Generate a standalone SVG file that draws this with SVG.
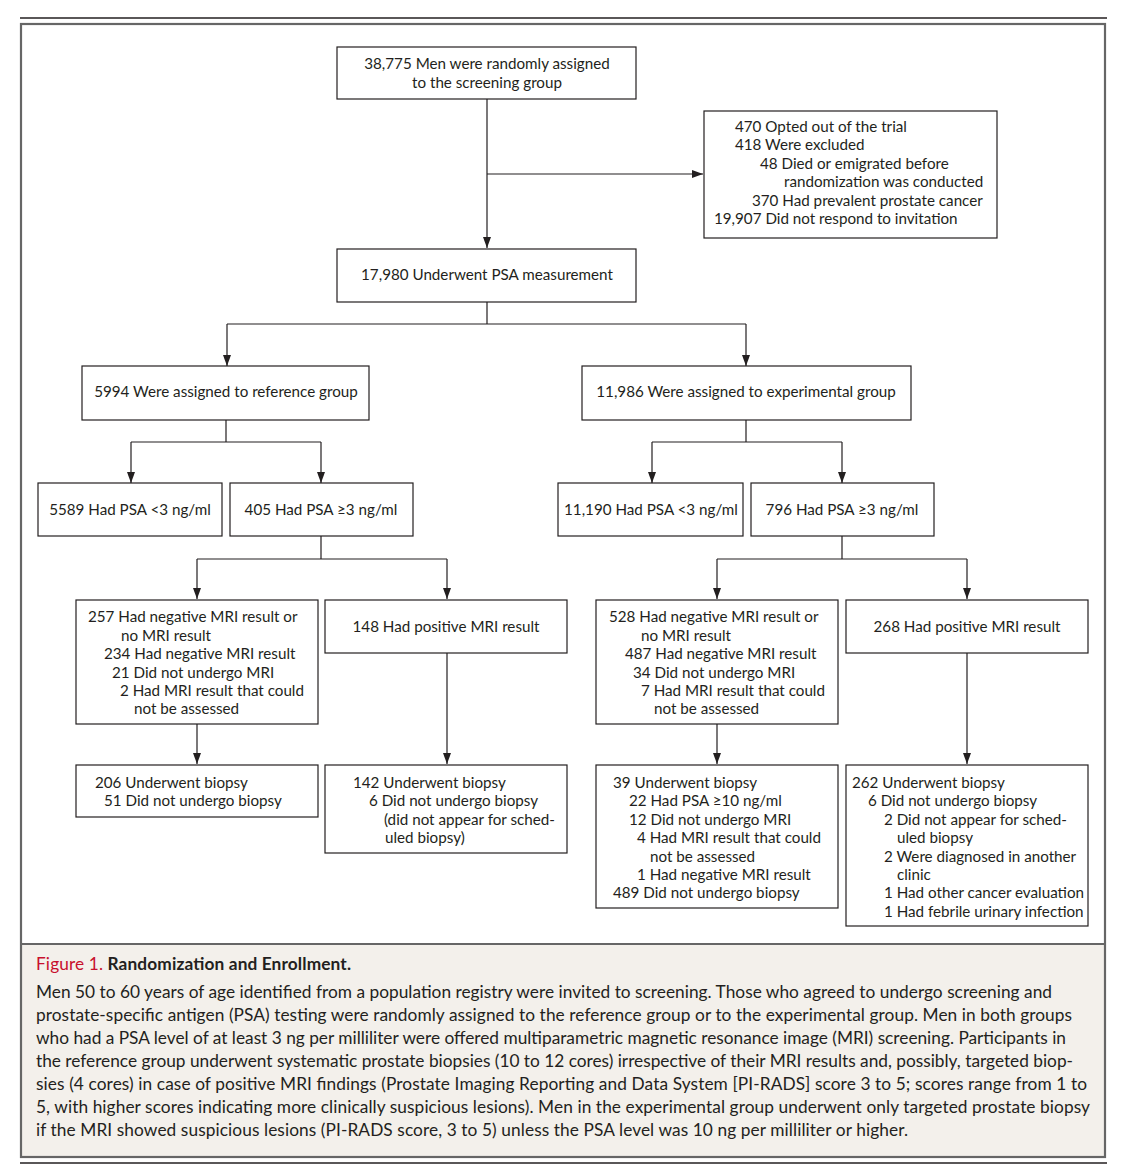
<svg xmlns="http://www.w3.org/2000/svg" width="1131" height="1171" viewBox="0 0 1131 1171">
<style>
.box{fill:#fff;stroke:#231f20;stroke-width:1.2}
.t{font-family:Lato,"Open Sans","Liberation Sans",sans-serif;font-size:15.2px;fill:#231f20}
.c{text-anchor:middle}
.ln{fill:none;stroke:#231f20;stroke-width:1.2}
.cap{font-family:Lato,"Open Sans","Liberation Sans",sans-serif;font-size:17.3px;fill:#231f20}
</style>
<defs>
<marker id="ah" markerUnits="userSpaceOnUse" markerWidth="8" markerHeight="11" refX="4" refY="11" orient="0" viewBox="0 0 8 11">
<path d="M0,0 L8,0 L4,11 z" fill="#231f20"/>
</marker>
<marker id="ar" markerUnits="userSpaceOnUse" markerWidth="11" markerHeight="8" refX="11" refY="4" orient="0" viewBox="0 0 11 8">
<path d="M0,0 L11,4 L0,8 z" fill="#231f20"/>
</marker>
</defs>
<rect width="1131" height="1171" fill="#fff"/>
<line x1="20" y1="18" x2="1107" y2="18" stroke="#231f20" stroke-width="1.5"/>
<rect x="21" y="944" width="1084" height="213" fill="#f3f0eb"/>
<rect x="21" y="24" width="1084" height="1133" fill="none" stroke="#666" stroke-width="2.2"/>
<line x1="21" y1="944" x2="1105" y2="944" stroke="#666" stroke-width="2"/>
<line x1="20" y1="1163" x2="1107" y2="1163" stroke="#231f20" stroke-width="1.5"/>

<g id="connectors">
<path class="ln" d="M487,99 V248" marker-end="url(#ah)"/>
<path class="ln" d="M487,174 H703" marker-end="url(#ar)"/>
<path class="ln" d="M487,302 V324 M227,324 H746"/>
<path class="ln" d="M227,324 V366" marker-end="url(#ah)"/>
<path class="ln" d="M746,324 V366" marker-end="url(#ah)"/>
<path class="ln" d="M226,420 V442 M131,442 H321"/>
<path class="ln" d="M131,442 V483" marker-end="url(#ah)"/>
<path class="ln" d="M321,442 V483" marker-end="url(#ah)"/>
<path class="ln" d="M746,420 V442 M652,442 H842"/>
<path class="ln" d="M652,442 V483" marker-end="url(#ah)"/>
<path class="ln" d="M842,442 V483" marker-end="url(#ah)"/>
<path class="ln" d="M321,536 V559 M197,559 H447"/>
<path class="ln" d="M197,559 V599" marker-end="url(#ah)"/>
<path class="ln" d="M447,559 V599" marker-end="url(#ah)"/>
<path class="ln" d="M842,536 V559 M717,559 H967"/>
<path class="ln" d="M717,559 V599" marker-end="url(#ah)"/>
<path class="ln" d="M967,559 V599" marker-end="url(#ah)"/>
<path class="ln" d="M197,724 V764" marker-end="url(#ah)"/>
<path class="ln" d="M447,653 V764" marker-end="url(#ah)"/>
<path class="ln" d="M717,724 V764" marker-end="url(#ah)"/>
<path class="ln" d="M967,653 V764" marker-end="url(#ah)"/>
</g>

<g id="n-randomized">
<rect class="box" x="337" y="47" width="299" height="52"/>
<text class="t c" x="487" y="69">38,775 Men were randomly assigned</text>
<text class="t c" x="487" y="88">to the screening group</text>
</g>
<g id="n-excluded">
<rect class="box" x="704" y="111" width="293" height="127"/>
<text class="t" x="735" y="132">470 Opted out of the trial</text>
<text class="t" x="735" y="150">418 Were excluded</text>
<text class="t" x="760" y="169">48 Died or emigrated before</text>
<text class="t" x="784" y="187">randomization was conducted</text>
<text class="t" x="752" y="206">370 Had prevalent prostate cancer</text>
<text class="t" x="714" y="224">19,907 Did not respond to invitation</text>
</g>
<g id="n-psa">
<rect class="box" x="337" y="249" width="299" height="53"/>
<text class="t c" x="487" y="280">17,980 Underwent PSA measurement</text>
</g>
<g id="n-ref">
<rect class="box" x="82" y="366" width="287" height="54"/>
<text class="t c" x="226" y="397">5994 Were assigned to reference group</text>
</g>
<g id="n-exp">
<rect class="box" x="582" y="366" width="329" height="54"/>
<text class="t c" x="746" y="397">11,986 Were assigned to experimental group</text>
</g>
<g id="n-ref-low">
<rect class="box" x="38" y="483" width="184" height="53"/>
<text class="t c" x="130" y="515">5589 Had PSA &lt;3 ng/ml</text>
</g>
<g id="n-ref-high">
<rect class="box" x="230" y="483" width="183" height="53"/>
<text class="t c" x="321" y="515">405 Had PSA ≥3 ng/ml</text>
</g>
<g id="n-exp-low">
<rect class="box" x="558" y="483" width="185" height="53"/>
<text class="t c" x="651" y="515">11,190 Had PSA &lt;3 ng/ml</text>
</g>
<g id="n-exp-high">
<rect class="box" x="751" y="483" width="183" height="53"/>
<text class="t c" x="842" y="515">796 Had PSA ≥3 ng/ml</text>
</g>
<g id="n-ref-neg">
<rect class="box" x="76" y="600" width="242" height="124"/>
<text class="t" x="88" y="622">257 Had negative MRI result or</text>
<text class="t" x="121" y="641">no MRI result</text>
<text class="t" x="104" y="659">234 Had negative MRI result</text>
<text class="t" x="112" y="678">21 Did not undergo MRI</text>
<text class="t" x="120" y="696">2 Had MRI result that could</text>
<text class="t" x="134" y="714">not be assessed</text>
</g>
<g id="n-ref-pos">
<rect class="box" x="325" y="600" width="242" height="53"/>
<text class="t c" x="446" y="632">148 Had positive MRI result</text>
</g>
<g id="n-exp-neg">
<rect class="box" x="596" y="600" width="242" height="124"/>
<text class="t" x="609" y="622">528 Had negative MRI result or</text>
<text class="t" x="641" y="641">no MRI result</text>
<text class="t" x="625" y="659">487 Had negative MRI result</text>
<text class="t" x="633" y="678">34 Did not undergo MRI</text>
<text class="t" x="641" y="696">7 Had MRI result that could</text>
<text class="t" x="654" y="714">not be assessed</text>
</g>
<g id="n-exp-pos">
<rect class="box" x="846" y="600" width="242" height="53"/>
<text class="t c" x="967" y="632">268 Had positive MRI result</text>
</g>
<g id="n-ref-neg-biopsy">
<rect class="box" x="76" y="765" width="242" height="52"/>
<text class="t" x="95" y="788">206 Underwent biopsy</text>
<text class="t" x="104" y="806">51 Did not undergo biopsy</text>
</g>
<g id="n-ref-pos-biopsy">
<rect class="box" x="325" y="765" width="242" height="88"/>
<text class="t" x="353" y="788">142 Underwent biopsy</text>
<text class="t" x="369" y="806">6 Did not undergo biopsy</text>
<text class="t" x="384" y="825">(did not appear for sched-</text>
<text class="t" x="385" y="843">uled biopsy)</text>
</g>
<g id="n-exp-neg-biopsy">
<rect class="box" x="596" y="765" width="242" height="143"/>
<text class="t" x="613" y="788">39 Underwent biopsy</text>
<text class="t" x="629" y="806">22 Had PSA ≥10 ng/ml</text>
<text class="t" x="629" y="825">12 Did not undergo MRI</text>
<text class="t" x="637" y="843">4 Had MRI result that could</text>
<text class="t" x="650" y="862">not be assessed</text>
<text class="t" x="637" y="880">1 Had negative MRI result</text>
<text class="t" x="613" y="898">489 Did not undergo biopsy</text>
</g>
<g id="n-exp-pos-biopsy">
<rect class="box" x="846" y="765" width="242" height="161"/>
<text class="t" x="852" y="788">262 Underwent biopsy</text>
<text class="t" x="868" y="806">6 Did not undergo biopsy</text>
<text class="t" x="884" y="825">2 Did not appear for sched-</text>
<text class="t" x="897" y="843">uled biopsy</text>
<text class="t" x="884" y="862">2 Were diagnosed in another</text>
<text class="t" x="897" y="880">clinic</text>
<text class="t" x="884" y="898">1 Had other cancer evaluation</text>
<text class="t" x="884" y="917">1 Had febrile urinary infection</text>
</g>

<g id="caption">
<text class="cap" x="36" y="970" textLength="315" lengthAdjust="spacing"><tspan fill="#c8102e">Figure 1.</tspan><tspan font-weight="bold"> Randomization and Enrollment.</tspan></text>
<text class="cap" x="36" y="998" textLength="1016" lengthAdjust="spacing">Men 50 to 60 years of age identified from a population registry were invited to screening. Those who agreed to undergo screening and</text>
<text class="cap" x="36" y="1021" textLength="1036" lengthAdjust="spacing">prostate-specific antigen (PSA) testing were randomly assigned to the reference group or to the experimental group. Men in both groups</text>
<text class="cap" x="36" y="1044" textLength="1030" lengthAdjust="spacing">who had a PSA level of at least 3 ng per milliliter were offered multiparametric magnetic resonance image (MRI) screening. Participants in</text>
<text class="cap" x="36" y="1067" textLength="1037" lengthAdjust="spacing">the reference group underwent systematic prostate biopsies (10 to 12 cores) irrespective of their MRI results and, possibly, targeted biop-</text>
<text class="cap" x="36" y="1090" textLength="1051" lengthAdjust="spacing">sies (4 cores) in case of positive MRI findings (Prostate Imaging Reporting and Data System [PI-RADS] score 3 to 5; scores range from 1 to</text>
<text class="cap" x="36" y="1113" textLength="1054" lengthAdjust="spacing">5, with higher scores indicating more clinically suspicious lesions). Men in the experimental group underwent only targeted prostate biopsy</text>
<text class="cap" x="36" y="1136" textLength="872" lengthAdjust="spacing">if the MRI showed suspicious lesions (PI-RADS score, 3 to 5) unless the PSA level was 10 ng per milliliter or higher.</text>
</g>
</svg>
